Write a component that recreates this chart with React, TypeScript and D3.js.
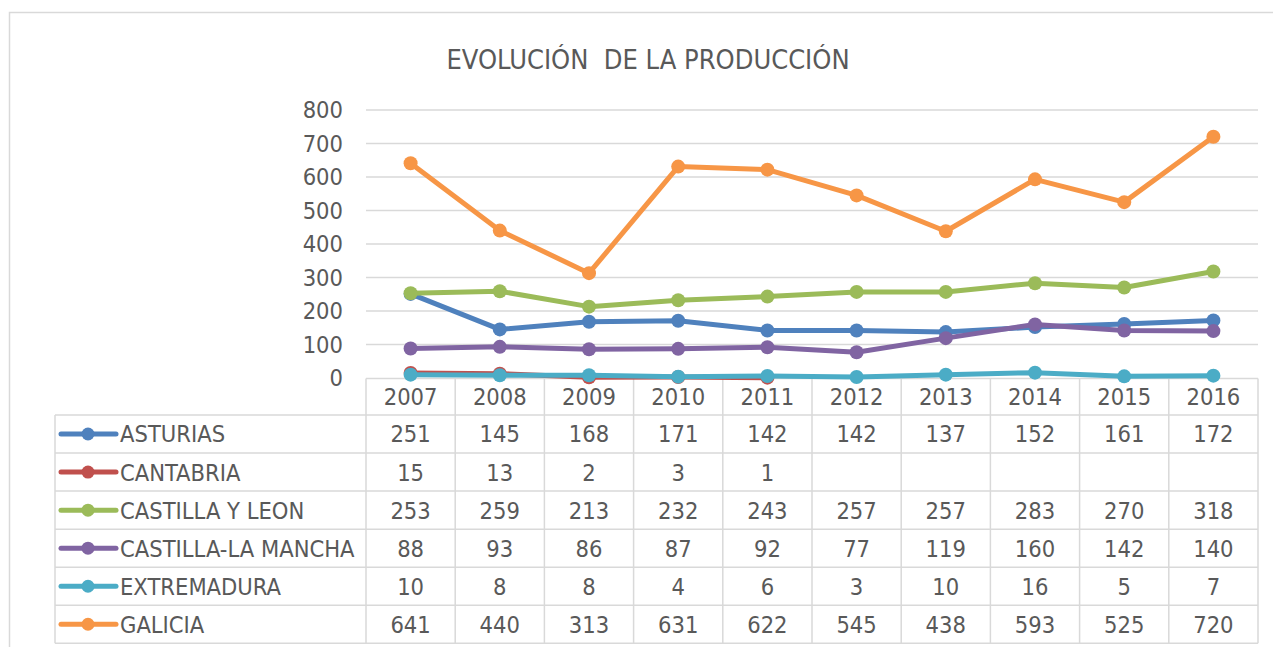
import React from "react";
import * as d3 from "d3";

const years = ["2007", "2008", "2009", "2010", "2011", "2012", "2013", "2014", "2015", "2016"];
const seriesNames = ["ASTURIAS", "CANTABRIA", "CASTILLA Y LEON", "CASTILLA-LA MANCHA", "EXTREMADURA", "GALICIA"];
const asturias: (number | null)[] = [251, 145, 168, 171, 142, 142, 137, 152, 161, 172];
const cantabria: (number | null)[] = [15, 13, 2, 3, 1, null, null, null, null, null];
const castillaLeon: (number | null)[] = [253, 259, 213, 232, 243, 257, 257, 283, 270, 318];
const castillaMancha: (number | null)[] = [88, 93, 86, 87, 92, 77, 119, 160, 142, 140];
const extremadura: (number | null)[] = [10, 8, 8, 4, 6, 3, 10, 16, 5, 7];
const galicia: (number | null)[] = [641, 440, 313, 631, 622, 545, 438, 593, 525, 720];
const colors = ["#4F81BD", "#C0504D", "#9BBB59", "#8064A2", "#4BACC6", "#F79646"];
const yTicks = [0, 100, 200, 300, 400, 500, 600, 700, 800];

const allSeries = [asturias, cantabria, castillaLeon, castillaMancha, extremadura, galicia];

const FONT = '"DejaVu Sans Condensed", "DejaVu Sans", sans-serif';
const TXT = "#595959";
const GRID = "#d9d9d9";

export default function App() {
  const W = 1273, H = 647;
  const plotL = 366, plotR = 1258;
  const x = d3.scaleBand<string>().domain(years).range([plotL, plotR]);
  const y = d3.scaleLinear().domain([0, 800]).range([378, 110]);
  const headerTop = 379, headerBot = 415, rowH = 38.05;
  const tableL = 55;
  const fs = 23.5;
  const tfs = 27;
  const tableBottom = headerBot + rowH * seriesNames.length;

  const line = d3
    .line<number | null>()
    .defined((d) => d !== null)
    .x((_, i) => (x(years[i]) as number) + x.bandwidth() / 2)
    .y((d) => y(d as number));

  return (
    <svg width={W} height={H} style={{ display: "block", position: "absolute", left: 0, top: 0 }} fontFamily={FONT} fontStretch="condensed">
      <rect x={0} y={0} width={W} height={H} fill="#fff" />
      {/* outer border */}
      <path d={`M9.5,${H} V12.5 H${W}`} fill="none" stroke={GRID} strokeWidth={1.5} />
      {/* title */}
      <text x={648} y={59.5 + 0.36 * tfs} textAnchor="middle" fontSize={tfs} fill={TXT} style={{ whiteSpace: "pre" }}>
        {"EVOLUCIÓN  DE LA PRODUCCIÓN"}
      </text>
      {/* gridlines */}
      {yTicks.map((t) => (
        <g key={t}>
          {t > 0 && <line x1={plotL} x2={plotR} y1={y(t)} y2={y(t)} stroke={GRID} strokeWidth={1.5} />}
          <text x={343} y={y(t) + 0.36 * fs} textAnchor="end" fontSize={fs} fill={TXT}>
            {t}
          </text>
        </g>
      ))}
      {/* table lines */}
      <line x1={plotL} x2={plotR} y1={headerTop - 0.5} y2={headerTop - 0.5} stroke={GRID} strokeWidth={1.5} />
      {d3.range(seriesNames.length + 1).map((r) => (
        <line key={"h" + r} x1={tableL} x2={plotR} y1={headerBot + r * rowH} y2={headerBot + r * rowH} stroke={GRID} strokeWidth={1.5} />
      ))}
      <line x1={tableL} x2={tableL} y1={headerBot} y2={tableBottom} stroke={GRID} strokeWidth={1.5} />
      {d3.range(years.length + 1).map((c) => {
        const xx = plotL + c * x.bandwidth();
        return <line key={"v" + c} x1={xx} x2={xx} y1={headerTop - 0.5} y2={tableBottom} stroke={GRID} strokeWidth={1.5} />;
      })}
      {/* header years */}
      {years.map((yr) => (
        <text key={yr} x={(x(yr) as number) + x.bandwidth() / 2} y={(headerTop + headerBot) / 2 + 0.36 * fs} textAnchor="middle" fontSize={fs} fill={TXT}>
          {yr}
        </text>
      ))}
      {/* rows */}
      {seriesNames.map((name, si) => {
        const cy = headerBot + si * rowH + rowH / 2;
        return (
          <g key={name}>
            <line x1={61} x2={116} y1={cy} y2={cy} stroke={colors[si]} strokeWidth={5} strokeLinecap="round" />
            <circle cx={88} cy={cy} r={6.5} fill={colors[si]} />
            <text x={120} y={cy + 0.36 * fs} fontSize={fs} fill={TXT}>
              {name}
            </text>
            {allSeries[si].map((v, i) =>
              v === null ? null : (
                <text key={i} x={(x(years[i]) as number) + x.bandwidth() / 2} y={cy + 0.36 * fs} textAnchor="middle" fontSize={fs} fill={TXT}>
                  {v}
                </text>
              )
            )}
          </g>
        );
      })}
      {/* series */}
      {allSeries.map((s, si) => (
        <g key={"s" + si}>
          <path d={line(s) || ""} fill="none" stroke={colors[si]} strokeWidth={5} strokeLinejoin="round" strokeLinecap="round" />
          {s.map((v, i) =>
            v === null ? null : (
              <circle key={i} cx={(x(years[i]) as number) + x.bandwidth() / 2} cy={y(v)} r={7} fill={colors[si]} />
            )
          )}
        </g>
      ))}
    </svg>
  );
}
